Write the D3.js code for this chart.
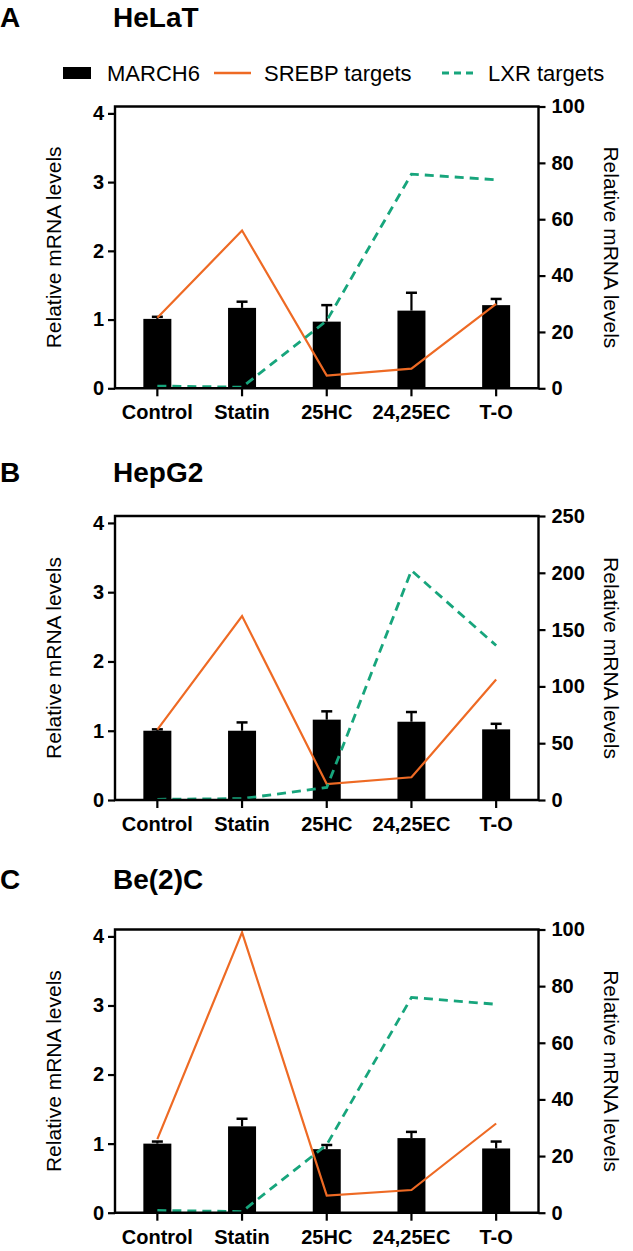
<!DOCTYPE html>
<html><head><meta charset="utf-8">
<script src="https://cdn.jsdelivr.net/npm/d3@7"></script>
<style>
html,body{margin:0;padding:0;background:#fff;}
svg text{font-family:"Liberation Sans",Arial,sans-serif;}
</style></head>
<body>
<svg id="chart" width="633" height="1251"></svg>
<script>
// ---- data ----
const categories = ["Control", "Statin", "25HC", "24,25EC", "T-O"];
const leftTicks = [0, 1, 2, 3, 4];

// Panel A: HeLaT
const marchA = [1.01, 1.17, 0.97, 1.13, 1.21];
const errA   = [0.03, 0.09, 0.24, 0.26, 0.09];
const srebpA = [25, 56, 4.5, 7, 30];
const lxrA   = [0.8, 0.4, 24, 76, 74];
const rightTicksA = [0, 20, 40, 60, 80, 100];

// Panel B: HepG2
const marchB = [1.00, 1.00, 1.16, 1.13, 1.02];
const errB   = [0.02, 0.12, 0.12, 0.14, 0.08];
const srebpB = [62, 162, 14, 20, 106];
const lxrB   = [0.6, 1.2, 11, 202, 136];
const rightTicksB = [0, 50, 100, 150, 200, 250];

// Panel C: Be(2)C
const marchC = [1.00, 1.25, 0.92, 1.08, 0.93];
const errC   = [0.03, 0.11, 0.06, 0.09, 0.10];
const srebpC = [26, 99, 6, 8, 31.5];
const lxrC   = [0.8, 0.4, 24, 76, 73.6];
const rightTicksC = [0, 20, 40, 60, 80, 100];

const legendLabels = ["MARCH6", "SREBP targets", "LXR targets"];
const axisTitle = "Relative mRNA levels";

// ---- style ----
const ORANGE = "#EE6A24";
const GREEN = "#17A57C";
const xLeft = 115, xRight = 538.5;

const svg = d3.select("#chart");

function drawPanel(o) {
  const g = svg.append("g");
  const x = d3.scaleBand().domain(categories).range([xLeft, xRight]).padding(0);
  const yL = d3.scaleLinear().domain([0, 4.1]).range([o.y0, o.top]);
  const yR = d3.scaleLinear().domain([0, o.rMax]).range([o.y0, o.top]);
  const cx = c => x(c) + x.bandwidth() / 2;
  const bw = 28;

  // titles
  g.append("text").attr("x", 0).attr("y", o.titleY).attr("font-size", 28).attr("font-weight", "bold").text(o.letter);
  g.append("text").attr("x", 113).attr("y", o.titleY).attr("font-size", 28).attr("font-weight", "bold").text(o.name);

  // bars
  const data = categories.map((c, i) => ({c, v: o.march[i], e: o.err[i]}));
  g.selectAll("rect.bar").data(data).enter().append("rect")
    .attr("x", d => cx(d.c) - bw / 2).attr("width", bw)
    .attr("y", d => yL(d.v)).attr("height", d => yL(0) - yL(d.v)).attr("fill", "#000");
  g.selectAll("line.err").data(data).enter().append("line")
    .attr("x1", d => cx(d.c)).attr("x2", d => cx(d.c))
    .attr("y1", d => yL(d.v)).attr("y2", d => yL(d.v + d.e))
    .attr("stroke", "#000").attr("stroke-width", 2.2);
  g.selectAll("line.cap").data(data).enter().append("line")
    .attr("x1", d => cx(d.c) - 5.5).attr("x2", d => cx(d.c) + 5.5)
    .attr("y1", d => yL(d.v + d.e)).attr("y2", d => yL(d.v + d.e))
    .attr("stroke", "#000").attr("stroke-width", 2.5);

  // lines
  const line = d3.line().x((d, i) => cx(categories[i])).y(d => yR(d));
  g.append("path").datum(o.srebp).attr("d", line).attr("fill", "none")
    .attr("stroke", ORANGE).attr("stroke-width", 2.2);
  g.append("path").datum(o.lxr).attr("d", line).attr("fill", "none")
    .attr("stroke", GREEN).attr("stroke-width", 2.8).attr("stroke-dasharray", "9,6");

  // axes
  const axL = d3.axisLeft(yL).tickValues(leftTicks).tickSize(7).tickPadding(4).tickFormat(d3.format("d"));
  const axR = d3.axisRight(yR).tickValues(o.rTicks).tickSize(7).tickPadding(6).tickFormat(d3.format("d"));
  const axB = d3.axisBottom(x).tickSize(8).tickPadding(9);
  const gl = g.append("g").attr("transform", `translate(${xLeft},0)`).call(axL);
  const gr = g.append("g").attr("transform", `translate(${xRight},0)`).call(axR);
  const gb = g.append("g").attr("transform", `translate(0,${o.y0})`).call(axB);
  [gl, gr, gb].forEach(a => {
    a.selectAll(".domain").remove();
    a.selectAll(".tick line").attr("stroke", "#000").attr("stroke-width", 2.2);
    a.selectAll(".tick text").attr("font-size", 20).attr("font-weight", "bold").attr("fill", "#000")
      .style("font-family", '"Liberation Sans",Arial,sans-serif');
  });
  // frame
  g.append("path").attr("d", `M${xLeft},${o.y0}V${o.top}H${xRight}V${o.y0}Z`)
    .attr("fill", "none").attr("stroke", "#000").attr("stroke-width", 2.4);

  // axis titles
  const mid = (o.y0 + o.top) / 2;
  g.append("text").attr("transform", `translate(61,${mid}) rotate(-90)`).attr("text-anchor", "middle")
    .attr("font-size", 21).text(axisTitle);
  g.append("text").attr("transform", `translate(604,${mid}) rotate(90)`).attr("text-anchor", "middle")
    .attr("font-size", 21).text(axisTitle);
}

drawPanel({letter: "A", name: "HeLaT", titleY: 27, top: 106.5, y0: 388.3, rMax: 100,
  march: marchA, err: errA, srebp: srebpA, lxr: lxrA, rTicks: rightTicksA});
drawPanel({letter: "B", name: "HepG2", titleY: 482, top: 516, y0: 800, rMax: 250,
  march: marchB, err: errB, srebp: srebpB, lxr: lxrB, rTicks: rightTicksB});
drawPanel({letter: "C", name: "Be(2)C", titleY: 889, top: 929.5, y0: 1212.7, rMax: 100,
  march: marchC, err: errC, srebp: srebpC, lxr: lxrC, rTicks: rightTicksC});

// legend
const lg = svg.append("g").attr("font-size", 22);
const legY = 73;
lg.append("rect").attr("x", 63).attr("y", legY - 6).attr("width", 28).attr("height", 12).attr("fill", "#000");
lg.append("text").attr("x", 107).attr("y", legY + 8).text(legendLabels[0]);
lg.append("line").attr("x1", 214).attr("x2", 251).attr("y1", legY).attr("y2", legY).attr("stroke", ORANGE).attr("stroke-width", 2.5);
lg.append("text").attr("x", 264).attr("y", legY + 8).text(legendLabels[1]);
lg.append("line").attr("x1", 442).attr("x2", 474).attr("y1", legY).attr("y2", legY).attr("stroke", GREEN).attr("stroke-width", 3).attr("stroke-dasharray", "7,5");
lg.append("text").attr("x", 488).attr("y", legY + 8).text(legendLabels[2]);
</script>
</body></html>
